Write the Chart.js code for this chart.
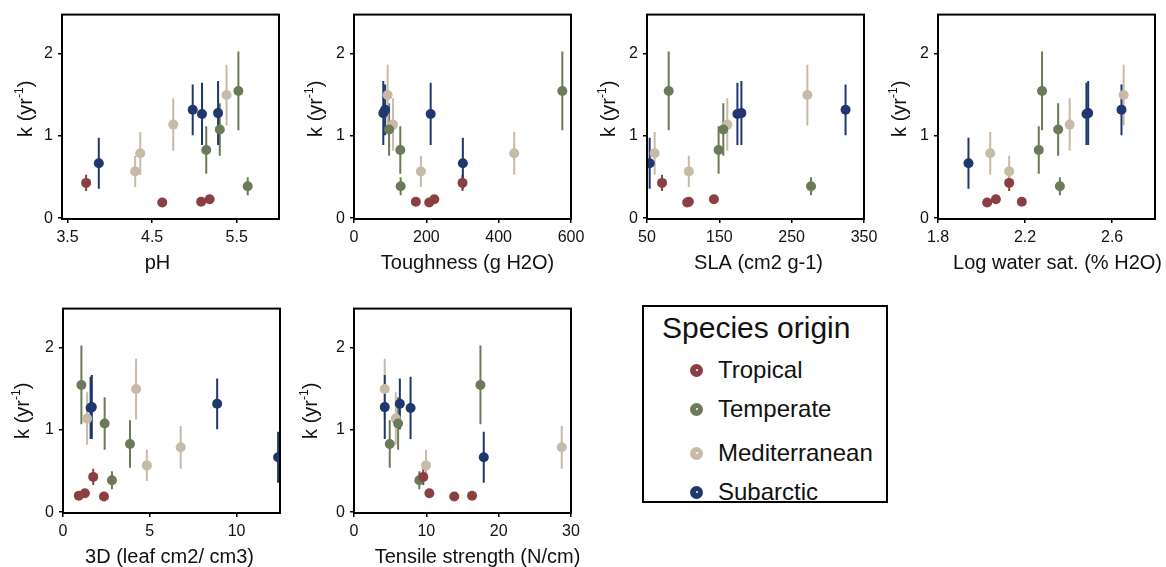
<!DOCTYPE html>
<html>
<head>
<meta charset="utf-8">
<title>Decomposition rate vs leaf traits</title>
<script src="https://cdn.jsdelivr.net/npm/chart.js@4.4.0/dist/chart.umd.min.js"></script>
<style>
  html, body { margin: 0; padding: 0; overflow: hidden; }
  body { width: 1166px; height: 567px; position: relative; background: #fff; font-family: "Liberation Sans", Arial, sans-serif; }
  canvas.panel { position: absolute; }
  #legend { position: absolute; left: 642px; top: 305px; width: 242px; height: 194px; border: 2px solid #000; color: #111; }
  #legend .title { position: absolute; left: 18px; top: 6px; font-size: 30px; line-height: 30px; }
  #legend .item { position: absolute; left: 46px; height: 30px; display: flex; align-items: center; font-size: 24px; }
  #legend .dot { width: 13px; height: 13px; border-radius: 50%; margin-right: 15px; position: relative; }
  #legend .dot::after { content: ""; position: absolute; left: 5.5px; top: 5.5px; width: 2px; height: 2px; border-radius: 50%; background: #fff; }
</style>
</head>
<body>
<canvas id="c1" class="panel" width="300" height="280"></canvas>
<canvas id="c2" class="panel" width="300" height="280"></canvas>
<canvas id="c3" class="panel" width="300" height="280"></canvas>
<canvas id="c4" class="panel" width="300" height="280"></canvas>
<canvas id="c5" class="panel" width="300" height="280"></canvas>
<canvas id="c6" class="panel" width="300" height="280"></canvas>
<div id="legend"><div class="title">Species origin</div></div>

<script>
const origins = ['Tropical', 'Temperate', 'Mediterranean', 'Subarctic'];
const originColors = ['#8a4043', '#6b7a58', '#c7bba8', '#20366f'];

// decomposition rate k (yr-1) and error, 4 species per origin
const kValues = [
  [0.43, 0.19, 0.20, 0.23],
  [1.55, 1.08, 0.83, 0.39],
  [1.50, 1.14, 0.79, 0.57],
  [1.32, 1.28, 1.27, 0.67]
];
const kErrors = [
  [0.10, 0.02, 0.02, 0.02],
  [0.48, 0.32, 0.29, 0.11],
  [0.37, 0.32, 0.26, 0.19],
  [0.31, 0.39, 0.38, 0.31]
];

// leaf traits, same species order as kValues
const phValues = [
  [3.72, 4.62, 5.08, 5.18],
  [5.52, 5.30, 5.14, 5.63],
  [5.38, 4.75, 4.36, 4.30],
  [4.98, 5.28, 5.09, 3.87]
];
const toughnessValues = [
  [300, 208, 171, 222],
  [576, 97, 128, 129],
  [93, 108, 443, 185],
  [86, 81, 212, 301]
];
const slaValues = [
  [70.8, 105.5, 107.8, 142.5],
  [80, 155.5, 149, 276.8],
  [271.7, 161, 60.6, 107.8],
  [324.5, 180.5, 175, 53.7]
];
const waterSatValues = [
  [2.127, 2.026, 2.185, 2.066],
  [2.278, 2.352, 2.263, 2.36],
  [2.653, 2.405, 2.04, 2.127],
  [2.643, 2.49, 2.482, 1.94]
];
const threeDValues = [
  [1.74, 2.36, 0.91, 1.26],
  [1.06, 2.40, 3.86, 2.82],
  [4.21, 1.39, 6.78, 4.83],
  [8.88, 1.66, 1.59, 12.39]
];
const tensileValues = [
  [9.58, 13.86, 16.32, 10.42],
  [17.48, 6.1, 4.94, 9.03],
  [4.25, 5.78, 28.72, 9.96],
  [6.34, 4.25, 7.82, 17.94]
];

const kTicks = [0, 1, 2];
const phTicks = [3.5, 4.5, 5.5];
const toughnessTicks = [0, 200, 400, 600];
const slaTicks = [50, 150, 250, 350];
const waterSatTicks = [1.8, 2.2, 2.6];
const threeDTicks = [0, 5, 10];
const tensileTicks = [0, 10, 20, 30];

const FONT = '"Liberation Sans", Arial, sans-serif';

// panel layout: canvas position, x range, title offsets
const panels = [
  { id: 'c1', values: phValues, ticks: phTicks, min: 3.435, max: 6.0, title: 'pH', left: 0, top: 0, tdx: -13, ydx: -37, ydy: -8 },
  { id: 'c2', values: toughnessValues, ticks: toughnessTicks, min: 0, max: 600, title: 'Toughness (g H2O)', left: 292, top: 0, tdx: 5, ydx: -39, ydy: -8 },
  { id: 'c3', values: slaValues, ticks: slaTicks, min: 50, max: 350, title: 'SLA (cm2 g-1)', left: 585, top: 0, tdx: 3, ydx: -39, ydy: -8 },
  { id: 'c4', values: waterSatValues, ticks: waterSatTicks, min: 1.8, max: 2.797, title: 'Log water sat. (% H2O)', left: 876, top: 0, tdx: 11, ydx: -39, ydy: -8 },
  { id: 'c5', values: threeDValues, ticks: threeDTicks, min: 0, max: 12.5, title: '3D (leaf cm2/ cm3)', left: 1, top: 294, tdx: -2, ydx: -41, ydy: 0 },
  { id: 'c6', values: tensileValues, ticks: tensileTicks, min: 0, max: 30, title: 'Tensile strength (N/cm)', left: 292, top: 294, tdx: 15, ydx: -44, ydy: 0 }
];

const errorBars = {
  id: 'errorBars',
  beforeDatasetsDraw(chart) {
    const { ctx, chartArea, scales: { x, y } } = chart;
    ctx.save();
    ctx.beginPath();
    ctx.rect(chartArea.left, chartArea.top, chartArea.right - chartArea.left, chartArea.bottom - chartArea.top);
    ctx.clip();
    ctx.lineWidth = 2;
    chart.data.datasets.forEach(ds => {
      ctx.strokeStyle = ds.backgroundColor;
      ds.data.forEach(p => {
        const px = x.getPixelForValue(p.x);
        ctx.beginPath();
        ctx.moveTo(px, y.getPixelForValue(p.y - p.err));
        ctx.lineTo(px, y.getPixelForValue(p.y + p.err));
        ctx.stroke();
      });
    });
    ctx.restore();
  }
};

const frameAndTitles = {
  id: 'frameAndTitles',
  afterDraw(chart, args, opts) {
    const { ctx, chartArea: a } = chart;
    ctx.save();
    ctx.strokeStyle = '#000';
    ctx.lineWidth = 2;
    ctx.strokeRect(a.left, a.top, a.right - a.left, a.bottom - a.top);

    ctx.fillStyle = '#111';
    ctx.textAlign = 'center';
    ctx.textBaseline = 'alphabetic';
    ctx.font = '20px ' + FONT;
    ctx.fillText(opts.title, (a.left + a.right) / 2 + opts.tdx, a.bottom + 50);

    // k (yr-1), rotated
    ctx.translate(a.left + opts.ydx, (a.top + a.bottom) / 2 + opts.ydy);
    ctx.rotate(-Math.PI / 2);
    ctx.textAlign = 'left';
    const big = '20px ' + FONT, small = '12px ' + FONT;
    ctx.font = big;
    const w1 = ctx.measureText('k (yr').width, w3 = ctx.measureText(')').width;
    ctx.font = small;
    const w2 = ctx.measureText('-1').width;
    let cx = -(w1 + w2 + w3) / 2;
    ctx.font = big; ctx.fillText('k (yr', cx, 7); cx += w1;
    ctx.font = small; ctx.fillText('-1', cx, -2); cx += w2;
    ctx.font = big; ctx.fillText(')', cx, 7);
    ctx.restore();
  }
};

panels.forEach(p => {
  const canvas = document.getElementById(p.id);
  canvas.style.left = p.left + 'px';
  canvas.style.top = p.top + 'px';

  const datasets = origins.map((name, i) => ({
    label: name,
    data: p.values[i].map((xv, j) => ({ x: xv, y: kValues[i][j], err: kErrors[i][j] })),
    backgroundColor: originColors[i],
    pointRadius: 5,
    pointBorderWidth: 0
  }));

  new Chart(canvas.getContext('2d'), {
    type: 'scatter',
    data: { datasets },
    plugins: [errorBars, frameAndTitles],
    options: {
      responsive: false,
      animation: false,
      events: [],
      layout: { padding: { top: 10, right: 21, left: 0, bottom: 0 } },
      plugins: {
        legend: { display: false },
        tooltip: { enabled: false },
        frameAndTitles: { title: p.title, tdx: p.tdx, ydx: p.ydx, ydy: p.ydy }
      },
      scales: {
        x: {
          type: 'linear', min: p.min, max: p.max,
          afterBuildTicks: s => { s.ticks = p.ticks.map(v => ({ value: v })); },
          afterFit: s => { s.height = 61; },
          border: { display: false },
          grid: { drawOnChartArea: false, color: '#000', lineWidth: 1.5, tickLength: 4 },
          ticks: { color: '#111', font: { size: 16, family: FONT }, padding: 5, maxRotation: 0, autoSkip: false }
        },
        y: {
          type: 'linear', min: -0.01, max: 2.48,
          afterBuildTicks: s => { s.ticks = kTicks.map(v => ({ value: v })); },
          afterFit: s => { s.width = 62; },
          border: { display: false },
          grid: { drawOnChartArea: false, color: '#000', lineWidth: 1.5, tickLength: 4 },
          ticks: { color: '#111', font: { size: 16, family: FONT }, padding: 5 }
        }
      }
    }
  });
});

// legend box
const legend = document.getElementById('legend');
const rowCentres = [63, 102, 146, 185];
origins.forEach((name, i) => {
  const item = document.createElement('div');
  item.className = 'item';
  item.style.top = (rowCentres[i] - 15) + 'px';
  const dot = document.createElement('span');
  dot.className = 'dot';
  dot.style.background = originColors[i];
  item.appendChild(dot);
  item.appendChild(document.createTextNode(name));
  legend.appendChild(item);
});
</script>
</body>
</html>
